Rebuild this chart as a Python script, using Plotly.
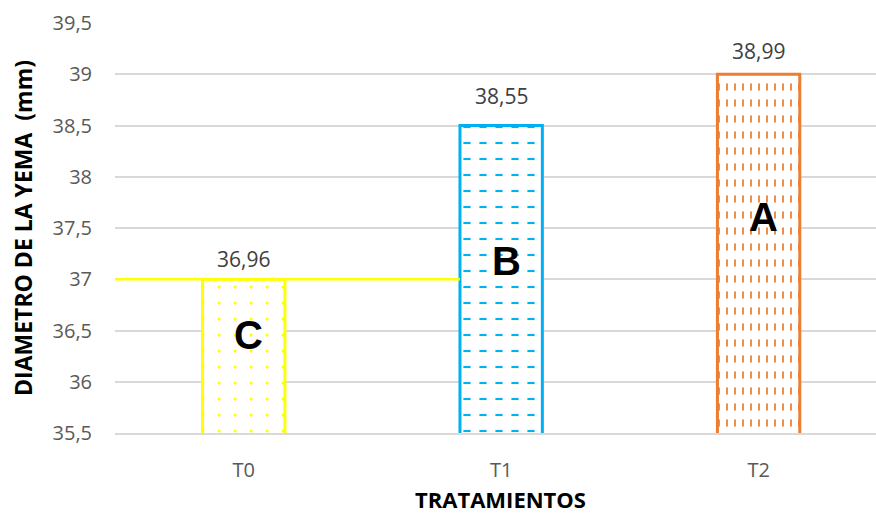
import plotly.graph_objects as go

# ---- data ----
categories = ["T0", "T1", "T2"]
values = [36.96, 38.55, 38.99]            # printed data labels
bar_tops = [37.0, 38.5, 39.0]             # drawn bar tops as seen in the picture
value_labels = ["36,96", "38,55", "38,99"]
group_letters = ["C", "B", "A"]
y_ticks = [35.5, 36, 36.5, 37, 37.5, 38, 38.5, 39, 39.5]
y_tick_labels = ["35,5", "36", "36,5", "37", "37,5", "38", "38,5", "39", "39,5"]

# ---- styling ----
colors = ["#FFFF00", "#00B0F0", "#ED7D31"]
bar_w = 0.32
y_range = [35.5, 39.5]
x_range = [-0.5, 2.456]
letter_y = [36.46, 37.18, 37.61]
tick_font = dict(family="Open Sans", size=20, color="#595959")

fig = go.Figure()

# solid white under-layer (hides gridlines inside the bars)
fig.add_trace(go.Bar(
    x=categories, y=bar_tops, width=bar_w,
    marker=dict(color="white", line=dict(width=0)),
    hoverinfo="skip", showlegend=False,
))
# base pattern layer
fig.add_trace(go.Bar(
    x=categories, y=bar_tops, width=bar_w,
    marker=dict(
        color=colors,
        line=dict(width=0),
        pattern=dict(
            shape=[".", "-", "|"],
            size=[16, 16, 8],
            solidity=[0.03, 0.13, 0.22],
            fgcolor=colors,
            bgcolor="white",
            fillmode="replace",
        ),
    ),
    hoverinfo="skip", showlegend=False,
))
# white "cut" layer turning lines into dashes
fig.add_trace(go.Bar(
    x=categories, y=bar_tops, width=bar_w,
    marker=dict(
        color="rgba(0,0,0,0)",
        line=dict(width=0),
        pattern=dict(
            shape=["", "|", "-"],
            size=[16, 16, 16],
            solidity=[0.01, 0.55, 0.56],
            fgcolor="white",
            bgcolor="rgba(0,0,0,0)",
            fillmode="replace",
        ),
    ),
    hoverinfo="skip", showlegend=False,
))
# outline layer
fig.add_trace(go.Bar(
    x=categories, y=bar_tops, width=bar_w,
    marker=dict(color="rgba(0,0,0,0)", line=dict(color=colors, width=3)),
    hoverinfo="skip", showlegend=False,
))

annotations = []
for c, v, lab in zip(categories, values, value_labels):
    annotations.append(dict(
        x=c, y=v, xref="x", yref="y", text=lab, showarrow=False,
        yanchor="middle", yshift=24,
        font=dict(family="Open Sans", size=21, color="#404040"),
    ))
for c, letter, ly in zip(categories, group_letters, letter_y):
    annotations.append(dict(
        x=c, y=ly, xref="x", yref="y", text="<b>%s</b>" % letter, showarrow=False,
        xshift=5, yanchor="middle",
        font=dict(family="Liberation Sans", size=40, color="#000000"),
    ))
annotations.append(dict(
    x=0.507, y=-0.16, xref="paper", yref="paper", text="<b>TRATAMIENTOS</b>",
    showarrow=False, xanchor="center", yanchor="middle",
    font=dict(family="Open Sans", size=22, color="#000000"),
))
annotations.append(dict(
    x=-0.1209, y=0.5, xref="paper", yref="paper", text="<b>DIAMETRO DE LA YEMA  (mm)</b>",
    showarrow=False, xanchor="center", yanchor="middle", textangle=-90,
    font=dict(family="Open Sans", size=23, color="#000000"),
))

fig.update_layout(
    width=876, height=515,
    margin=dict(l=115, r=0, t=23, b=82),
    paper_bgcolor="white", plot_bgcolor="white",
    barmode="overlay",
    annotations=annotations,
    shapes=[dict(
        type="line", xref="x", yref="y", layer="above",
        x0=x_range[0], x1=1 - bar_w / 2, y0=bar_tops[0], y1=bar_tops[0],
        line=dict(color=colors[0], width=2.5),
    )],
)
fig.update_xaxes(
    range=x_range, showgrid=False, showline=True, linecolor="#D9D9D9", linewidth=2,
    ticks="", tickfont=tick_font, ticklabelstandoff=18, zeroline=False,
)
fig.update_yaxes(
    range=y_range, tickvals=y_ticks, ticktext=y_tick_labels,
    showgrid=True, gridcolor="#D9D9D9", gridwidth=2, zeroline=False, showline=False,
    ticks="", tickfont=tick_font, ticklabelstandoff=22,
)

fig.write_html("out.html")
